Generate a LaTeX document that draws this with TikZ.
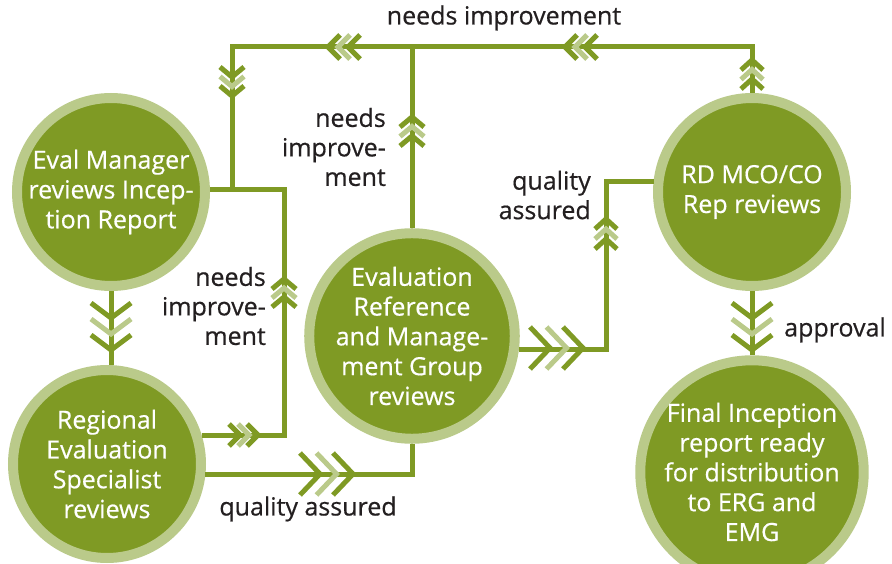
\documentclass[tikz,border=0pt]{standalone}
\usepackage{fontspec}
\setmainfont{Open Sans}[FakeBold=0.5]
\definecolor{olv}{HTML}{7F9A24}
\definecolor{lite}{HTML}{BACA8A}
\definecolor{ink}{HTML}{231F20}
% #1 tip, #2 rotation, #3 back length, #4 half width, #5 spacing
\newcommand\chevs[5]{%
\begin{scope}[shift={#1},rotate=#2]
 \draw[chevline,draw=olv] (-#3,#4) -- (0,0) -- (-#3,-#4);
 \draw[chevline,draw=lite] (-#3-#5,#4) -- (-#5,0) -- (-#3-#5,-#4);
 \draw[chevline,draw=olv] (-#3-2*#5,#4) -- (-2*#5,0) -- (-#3-2*#5,-#4);
\end{scope}}
\begin{document}
\begin{tikzpicture}[x=1pt,y=-1pt,
 stage/.style={circle, draw=lite, line width=10pt, fill=olv, minimum size=188pt, inner sep=0pt,
   text=white, align=center, font=\fontsize{25}{29.8}\selectfont},
 conn/.style={draw=olv, line width=5pt, line join=miter},
 chevline/.style={line width=5pt, line join=miter, line cap=butt},
 lbl/.style={text=ink, font=\fontsize{25}{29.5}\selectfont, inner sep=0pt},
 ]
\useasboundingbox (0,0) rectangle (892,564);

\node[stage] (em)  at (111,192) {Eval Manager\\reviews Incep-\\tion Report};
\node[stage] (rs)  at (107,464) {Regional\\Evaluation\\Specialist\\reviews};
\node[stage] (erg) at (412,336) {Evaluation\\Reference\\and Manage-\\ment Group\\reviews};
\node[stage] (rd)  at (752,192) {RD MCO/CO\\Rep reviews};
\node[stage] (fin) at (752,472) {Final Inception\\report ready\\for distribution\\to ERG and\\EMG};

\coordinate (jl) at (232,190);

\draw[conn] (em.south) -- (em.south |- rs.north);
\draw[conn] (rs.17) -| (284,190) -- (em.east |- jl);
\draw[conn] (rd.north) |- (232,47) -- (jl);
\draw[conn] (erg.north) -- (erg.north |- 0,47);
\draw[conn] (rs.-6) -| (erg.south);
\draw[conn] (erg.-7) -- (erg.-7 -| 606,0) |- (rd.174);
\draw[conn] (rd.south) -- (fin.north);

\chevs{(111,350)}{-90}{15}{20}{16}
\chevs{(752,350)}{-90}{15}{20}{16}
\chevs{(284,279)}{90}{10}{12}{9}
\chevs{(258,435)}{0}{11}{11}{9}
\chevs{(328,47)}{180}{12}{12}{10}
\chevs{(565,47)}{180}{12}{12}{10}
\chevs{(752,60)}{90}{10}{11}{9.5}
\chevs{(232,96)}{-90}{10}{12}{9.5}
\chevs{(412,117)}{90}{10}{12}{9.5}
\chevs{(353,474)}{0}{20}{21}{16.5}
\chevs{(583,348)}{0}{20}{21}{16.5}
\chevs{(606,219)}{90}{10}{11}{10}

\node[lbl] (l1) at (504,18) {needs improvement};
\node[lbl, align=right, anchor=east] (l2) at (386,147) {needs\\improve-\\ment};
\node[lbl, align=right, anchor=east] (l3) at (591,195) {quality\\assured};
\node[lbl, align=right, anchor=east] (l4) at (266,306) {needs\\improve-\\ment};
\node[lbl] (l5) at (308,509) {quality assured};
\node[lbl] (l6) at (835,330) {approval};
\end{tikzpicture}
\end{document}
